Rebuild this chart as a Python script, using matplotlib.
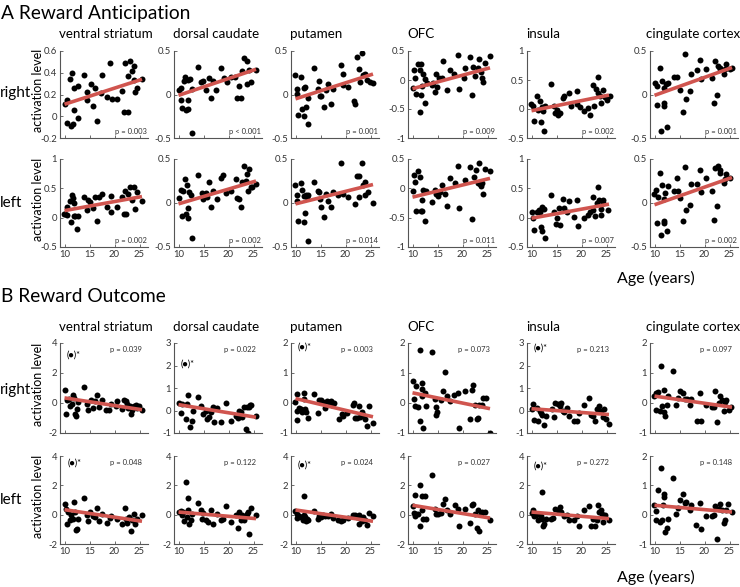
import matplotlib
matplotlib.use('Agg')
import matplotlib.pyplot as plt
import numpy as np

plt.rcParams['font.family'] = ['Lato', 'DejaVu Sans']

regions = ['ventral striatum', 'dorsal caudate', 'putamen', 'OFC', 'insula', 'cingulate cortex']
age_ticks = [10, 15, 20, 25]

# ---------------- A Reward Anticipation, right ----------------
ar_vs_age = [10.0, 10.5, 10.5, 11.1, 11.5, 11.3, 11.7, 11.8, 11.9, 12.6, 12.7, 13.9, 14.5, 14.5, 15.2, 15.7, 16.1, 16.5,
             17.3, 17.5, 18.5, 19.0, 19.4, 20.5, 21.5, 21.8, 22.6, 22.1, 22.7, 23.1, 23.5, 23.9, 23.9, 24.1, 24.5, 25.5]
ar_vs_val = [0.11, 0.15, -0.06, 0.34, 0.40, -0.09, -0.07, 0.26, 0.06, 0.28, -0.02, 0.38, 0.22, 0.15, 0.30, 0.09, 0.26, -0.04,
             0.21, 0.38, 0.18, 0.49, 0.16, 0.16, 0.23, 0.04, 0.04, 0.49, 0.37, 0.51, 0.42, 0.46, 0.33, 0.22, 0.26, 0.34]
ar_dc_age = [10.1, 10.4, 10.4, 10.6, 11.0, 11.3, 11.5, 11.9, 11.8, 11.8, 12.3, 12.7, 12.7, 13.9, 14.5, 14.8, 15.5, 16.1,
             16.5, 16.8, 17.5, 18.5, 19.1, 19.6, 20.4, 21.3, 21.7, 22.1, 22.4, 22.7, 23.1, 23.6, 23.7, 24.1, 24.4, 25.4]
ar_dc_val = [0.05, 0.08, -0.065, -0.16, 0.16, 0.20, -0.18, -0.065, -0.17, 0.17, 0.18, 0.06, -0.44, 0.32, 0.14, 0.16, 0.05, 0.19,
             -0.035, 0.16, 0.05, 0.30, 0.19, 0.14, 0.20, 0.20, -0.045, 0.095, -0.035, 0.27, 0.42, 0.39, 0.125, 0.285, 0.145, 0.285]
ar_put_age = [9.9, 10.2, 10.3, 10.4, 11.0, 11.2, 11.6, 11.7, 11.9, 12.1, 12.5, 12.5, 13.7, 14.4, 14.6, 14.8, 15.1, 15.6, 16.1,
              16.5, 17.0, 17.5, 19.0, 19.4, 19.5, 20.5, 21.6, 21.9, 22.2, 22.7, 23.3, 22.8, 23.5, 23.9, 24.3, 24.8, 25.4]
ar_put_val = [0.22, 0.065, 0.01, -0.23, 0.20, -0.17, 0.08, -0.25, 0.09, -0.14, -0.04, -0.34, 0.31, 0.065, 0.15, -0.015, -0.015,
              -0.14, 0.05, 0.12, -0.11, 0.065, 0.34, 0.23, 0.11, 0.09, -0.07, -0.11, 0.43, 0.29, 0.48, 0.14, 0.22, 0.24, 0.17, 0.14, 0.13]
ar_ofc_age = [10.0, 10.3, 10.5, 10.6, 11.1, 11.4, 11.6, 11.7, 11.5, 11.9, 12.1, 12.4, 12.5, 12.8, 13.8, 14.1, 14.5, 14.6, 14.9,
              15.3, 15.9, 16.1, 16.9, 17.5, 18.3, 19.1, 19.3, 20.3, 20.5, 21.4, 21.8, 22.1, 22.5, 23.1, 23.3, 23.6, 23.8, 24.1, 24.5, 25.4]
ar_ofc_val = [-0.13, 0.17, 0.04, -0.24, 0.27, 0.18, 0.27, -0.26, -0.56, -0.10, 0.11, 0.01, -0.39, -0.05, -0.08, -0.06, -0.21, 0.11,
              -0.12, 0.04, 0.04, 0.33, -0.17, 0.18, 0.10, 0.43, -0.16, 0.04, 0.20, 0.39, -0.26, 0.22, 0.07, 0.21, 0.36, 0.13, 0.04, -0.03, 0.30, 0.41]
ar_ins_age = [9.9, 10.2, 10.5, 11.0, 11.3, 11.7, 11.9, 12.1, 12.3, 12.5, 12.7, 13.9, 14.5, 14.7, 15.0, 15.3, 15.7, 16.2, 16.5,
              17.5, 17.9, 19.0, 19.1, 19.7, 20.5, 21.3, 21.7, 22.2, 22.5, 22.9, 23.2, 23.3, 23.7, 23.9, 24.2, 24.7, 25.1, 25.7]
ar_ins_val = [0.09, 0.05, -0.21, 0.22, -0.01, 0.13, -0.23, 0.03, -0.04, -0.38, 0.05, 0.43, 0.06, -0.07, -0.01, -0.10, -0.07, 0.19,
              0.22, 0.27, 0.06, 0.31, 0.08, 0.03, -0.03, 0.01, -0.10, 0.42, 0.06, 0.35, 0.55, 0.28, 0.23, 0.10, 0.32, 0.21, 0.16, 0.22]
ar_cing_age = [10.0, 10.5, 10.5, 11.0, 11.3, 11.5, 11.8, 11.9, 11.8, 12.3, 12.5, 12.7, 13.8, 14.5, 15.0, 15.6, 16.0, 16.3, 17.0,
               17.3, 18.5, 19.0, 19.3, 20.3, 21.5, 21.8, 22.1, 22.5, 22.7, 23.0, 23.1, 23.8, 24.0, 24.3, 25.0, 25.5]
ar_cing_val = [0.13, 0.10, -0.12, 0.30, -0.42, 0.15, -0.10, -0.13, 0.08, 0.12, -0.37, 0.13, 0.20, 0.20, 0.05, -0.20, 0.47, -0.05,
               0.04, 0.24, 0.28, 0.40, 0.18, 0.29, 0.19, -0.10, 0.38, -0.01, 0.33, 0.29, 0.31, 0.23, 0.29, 0.35, 0.29, 0.31]

# ---------------- A Reward Anticipation, left ----------------
al_vs_age = [9.9, 10.1, 10.5, 10.5, 11.1, 11.5, 11.3, 11.7, 11.8, 11.9, 12.1, 12.5, 12.7, 13.9, 14.5, 14.7, 15.1, 15.7, 16.1,
             16.5, 16.8, 17.5, 18.5, 19.2, 19.3, 20.5, 21.5, 21.8, 22.3, 22.1, 22.7, 23.1, 23.5, 23.9, 24.1, 24.5, 25.5]
al_vs_val = [0.06, 0.07, 0.05, 0.18, 0.29, 0.39, -0.08, 0.34, 0.03, 0.25, 0.02, -0.19, 0.03, 0.36, 0.13, 0.30, 0.26, 0.16, 0.35,
             -0.05, 0.35, 0.40, 0.19, 0.37, 0.10, 0.18, 0.36, 0.07, 0.07, 0.46, 0.40, 0.52, 0.30, 0.53, 0.14, 0.43, 0.29]
al_dc_age = [10.1, 10.5, 10.6, 10.8, 11.3, 11.5, 11.7, 11.9, 11.8, 12.1, 12.4, 12.6, 13.9, 14.6, 14.9, 15.5, 15.7, 16.1, 16.5,
             16.8, 17.6, 18.4, 18.8, 19.4, 20.4, 21.4, 21.7, 22.0, 22.5, 22.7, 23.1, 23.5, 23.7, 24.1, 23.9, 24.4, 24.7, 25.4]
al_dc_val = [0.06, 0.15, -0.15, 0.14, 0.27, -0.13, 0.20, -0.06, -0.17, 0.13, 0.09, -0.40, 0.32, 0.11, 0.05, 0.11, 0.07, 0.24, -0.05,
             0.14, 0.05, 0.28, 0.32, 0.11, 0.14, 0.27, 0.06, 0.04, -0.05, 0.24, 0.42, 0.25, 0.33, 0.39, 0.14, 0.18, 0.18, 0.22]
al_put_age = [9.9, 10.2, 10.3, 10.4, 11.0, 11.2, 11.6, 11.7, 11.8, 12.0, 12.2, 12.5, 12.5, 13.7, 14.4, 14.6, 14.9, 15.1, 15.6,
              16.1, 16.5, 17.0, 17.5, 18.5, 19.0, 19.4, 20.5, 21.9, 22.2, 22.7, 22.6, 23.3, 23.4, 23.8, 23.9, 24.5, 25.4]
al_put_val = [0.21, 0.09, 0.02, -0.21, 0.23, 0.15, 0.08, -0.22, -0.11, 0.09, 0.07, 0.09, -0.43, 0.24, 0.14, 0.13, 0.05, -0.05,
              -0.16, 0.10, 0.02, -0.05, 0.13, 0.09, 0.46, 0.10, 0.07, -0.01, 0.31, 0.31, 0.07, 0.46, 0.21, 0.24, 0.09, 0.13, 0.00]
al_ofc_age = [10.0, 10.3, 10.4, 10.6, 11.1, 11.5, 11.6, 11.8, 11.9, 12.1, 12.5, 12.6, 13.8, 14.5, 14.7, 15.1, 15.5, 15.9, 16.4,
              16.9, 17.5, 18.4, 19.1, 19.3, 20.4, 21.4, 21.8, 22.3, 22.6, 23.1, 23.3, 23.4, 23.6, 23.9, 24.1, 24.5, 25.4]
al_ofc_val = [-0.04, 0.23, 0.10, -0.38, 0.30, 0.19, -0.38, -0.20, -0.38, -0.02, -0.55, -0.04, -0.23, -0.02, -0.10, -0.13, -0.07,
              0.06, -0.10, -0.30, 0.18, 0.09, 0.38, -0.33, 0.15, 0.36, -0.53, 0.20, 0.31, 0.09, 0.44, 0.07, 0.04, 0.09, -0.10, 0.33, 0.29]
al_ins_age = [10.0, 10.3, 10.5, 11.0, 11.5, 11.7, 11.9, 12.0, 12.1, 12.5, 12.7, 13.9, 14.5, 14.8, 15.1, 15.5, 15.7, 16.2, 16.5,
              17.1, 17.5, 18.5, 19.1, 19.3, 20.5, 21.3, 21.7, 22.2, 22.3, 22.7, 23.0, 23.2, 23.5, 23.9, 23.9, 24.2, 24.3, 25.3]
al_ins_val = [0.09, -0.01, -0.21, 0.10, 0.13, 0.09, -0.16, -0.22, 0.18, 0.14, -0.34, 0.39, 0.10, -0.11, -0.01, 0.17, -0.13, 0.32,
              0.16, 0.09, 0.28, 0.01, 0.30, -0.14, -0.01, 0.05, 0.10, 0.35, 0.13, 0.03, 0.25, 0.52, 0.30, 0.05, 0.14, 0.30, 0.25, 0.13]
al_cing_age = [9.9, 10.3, 10.5, 10.6, 11.0, 11.3, 11.5, 11.8, 11.8, 11.9, 12.1, 12.5, 12.6, 13.8, 14.5, 14.6, 15.1, 15.7, 16.0,
               16.3, 17.0, 17.3, 18.5, 19.0, 19.3, 20.3, 21.5, 21.8, 22.0, 22.5, 22.7, 23.0, 23.1, 23.8, 24.0, 24.3, 25.0]
al_cing_val = [0.10, 0.15, -0.23, 0.07, 0.34, -0.36, 0.21, 0.05, -0.21, -0.23, 0.11, -0.32, 0.19, 0.14, 0.28, 0.14, 0.06, -0.20,
               0.41, -0.08, -0.02, 0.22, 0.22, 0.37, 0.13, 0.28, 0.14, -0.19, 0.40, -0.03, 0.42, 0.37, 0.34, 0.23, 0.27, 0.33, 0.28]

# ---------------- B Reward Outcome, right ----------------
or_vs_age = [10.0, 10.5, 10.3, 10.9, 11.1, 11.5, 11.7, 11.9, 12.1, 12.3, 12.5, 12.7, 13.8, 14.5, 14.7, 15.2, 15.7, 16.1, 16.5, 16.9,
             17.5, 18.3, 18.9, 19.3, 20.2, 20.5, 21.5, 21.9, 22.2, 22.5, 22.6, 23.0, 23.2, 23.5, 23.9, 24.2, 24.5, 24.9, 25.5]
or_vs_val = [0.85, 0.22, -0.72, 0.27, -0.18, -0.07, 0.56, 0.34, -0.72, -0.89, -0.38, 0.04, 1.07, -0.04, -0.45, 0.22, -0.34, 0.16,
             0.51, -0.29, 0.22, -0.49, -0.45, -0.04, -0.18, 0.11, -0.38, 0.22, 0.11, -0.04, -0.34, -0.22, -0.72, -0.45, -0.22, -0.11,
             -0.34, -0.22, -0.45]
or_dc_age = [10.1, 10.5, 10.7, 11.4, 11.7, 11.9, 12.3, 12.6, 12.8, 13.9, 14.5, 14.8, 15.5, 15.7, 16.1, 16.5, 16.8, 17.1, 17.6, 18.4,
             19.4, 20.4, 21.5, 21.8, 22.1, 22.4, 22.7, 23.1, 23.4, 23.6, 23.9, 24.1, 24.3, 24.5, 25.4]
or_dc_val = [0.33, -0.12, 0.27, -0.38, 0.27, 0.68, -0.73, -0.45, 0.0, 0.61, 0.18, -0.15, 0.0, -0.38, -0.27, -0.05, 0.15, -0.53, 0.12,
             -0.53, 0.33, -0.45, -0.23, -0.33, 0.0, -0.08, -0.30, 0.15, -0.83, 0.15, -0.98, 0.15, 0.23, 0.26, -0.23]
or_put_age = [9.9, 10.2, 10.3, 10.3, 10.7, 11.0, 11.2, 11.6, 11.7, 11.8, 12.0, 12.5, 13.7, 14.4, 14.6, 15.0, 15.4, 15.9, 16.3, 16.6,
              17.0, 17.3, 17.6, 18.6, 19.2, 19.4, 20.3, 21.4, 21.7, 21.9, 22.2, 22.6, 22.9, 23.3, 23.5, 23.8, 24.3, 24.6, 25.4]
or_put_val = [0.03, -0.26, 0.31, -0.57, -0.15, -0.20, -0.29, 0.34, 0.15, -0.20, -0.31, -0.49, 0.31, -0.34, 0.11, 0.11, 0.02, -0.15,
              0.06, 0.03, 0.06, -0.06, 0.0, -0.54, -0.38, -0.44, -0.34, -0.08, 0.0, -0.49, -0.49, -0.11, -0.46, -0.31, -0.40, -0.54,
              -0.77, -0.11, -0.66]
or_ofc_age = [10.0, 10.3, 10.4, 10.6, 11.1, 11.4, 11.5, 11.8, 11.8, 11.9, 12.1, 12.5, 12.6, 13.8, 14.5, 14.6, 14.7, 14.9, 15.6,
              16.1, 16.4, 16.9, 17.4, 18.3, 19.1, 19.3, 20.4, 21.4, 21.8, 22.1, 22.5, 22.8, 23.1, 23.3, 23.9, 24.1, 24.6, 25.4]
or_ofc_val = [0.74, 0.15, -0.11, 0.57, -0.14, 1.76, -0.59, 0.68, 0.47, 0.23, -0.82, 0.32, -0.11, 1.70, 0.15, -0.14, -0.39, -0.31,
              0.11, 0.40, 1.02, 0.23, 0.07, 0.26, 0.34, -0.82, 0.41, -0.53, 0.43, 0.60, -0.05, -0.53, -0.50, -0.08, -0.05, 0.18, 0.18, -0.99]
or_ins_age = [10.0, 10.3, 10.5, 11.0, 11.2, 11.7, 11.9, 12.1, 12.5, 12.8, 14.0, 14.5, 14.7, 15.3, 15.7, 15.9, 16.2, 16.5, 17.1,
              17.5, 18.5, 19.0, 19.5, 20.5, 21.5, 21.8, 22.2, 22.7, 23.1, 23.5, 23.8, 24.2, 24.5, 24.9, 25.5]
or_ins_val = [0.05, 0.27, -0.41, 0.12, -0.48, 0.0, -0.11, -0.18, -0.64, -0.26, 0.05, -0.30, 0.35, 0.30, 0.20, 0.35, 0.0, -0.06,
              0.09, -0.26, -0.48, -0.45, -0.11, 0.24, 0.55, -0.21, -0.26, -0.48, 0.05, 0.20, -0.03, -0.30, 0.05, -0.36, -0.61]
or_cing_age = [9.9, 10.3, 10.3, 10.6, 11.0, 11.3, 11.5, 11.8, 11.9, 12.1, 12.5, 12.7, 13.7, 14.3, 14.6, 15.1, 15.7, 16.0, 16.5,
               17.0, 17.3, 18.5, 19.0, 19.3, 20.3, 21.5, 21.8, 22.1, 22.5, 22.8, 23.1, 23.5, 23.8, 24.0, 24.3, 24.8, 25.3]
or_cing_val = [0.23, 0.34, -0.23, 0.38, -0.25, 1.23, -0.11, 0.45, -0.31, -0.42, -0.08, 0.23, 1.06, -0.05, 0.18, 0.41, 0.32, 0.15,
               0.15, -0.06, 0.15, -0.61, 0.34, -0.61, -0.08, -0.14, -0.14, 0.40, -0.63, 0.0, 0.23, 0.11, -0.25, 0.03, 0.09, -0.23, -0.14]

# ---------------- B Reward Outcome, left ----------------
ol_vs_age = [10.0, 10.3, 10.5, 10.7, 11.0, 11.3, 11.7, 11.9, 12.0, 12.2, 12.5, 12.7, 13.8, 14.5, 14.7, 15.1, 15.7, 16.1, 16.5,
             16.9, 17.5, 18.5, 19.0, 19.3, 20.5, 21.5, 22.0, 22.2, 22.5, 22.8, 23.2, 23.5, 23.8, 24.1, 24.5, 25.5]
ol_vs_val = [0.75, 0.41, -0.66, 0.18, -0.39, -0.05, -0.27, 0.86, 0.18, -1.07, -0.95, -0.27, 1.16, -0.05, -0.43, 0.18, -0.11, -0.16,
             0.48, -0.43, 0.02, -0.57, -0.20, -0.11, -0.27, -0.66, 0.48, -0.27, -0.57, -0.16, -1.11, -0.39, 0.02, -0.66, -0.27, 0.0]
ol_dc_age = [10.1, 10.5, 10.6, 10.9, 11.1, 11.5, 11.6, 11.9, 11.9, 12.1, 12.4, 12.6, 13.9, 14.5, 14.7, 14.9, 15.5, 15.9, 16.4,
             16.9, 17.6, 18.4, 18.9, 19.4, 20.4, 21.5, 21.8, 22.1, 22.4, 22.7, 23.1, 23.4, 23.7, 23.9, 24.1, 24.5, 25.4]
ol_dc_val = [0.18, 0.25, -0.05, 0.18, -0.43, 2.23, -0.16, 0.34, 1.16, -0.61, -0.34, 0.02, 0.80, 0.34, -0.27, 0.11, -0.39, -0.50,
             0.30, -0.61, 0.07, -0.34, -0.27, 0.57, -0.50, -0.05, -0.89, 0.18, -0.34, -0.05, -0.39, -0.11, 0.07, 0.18, -1.30, 0.48, -0.05]
ol_put_age = [9.9, 10.2, 10.3, 10.7, 11.0, 11.4, 11.6, 11.7, 11.8, 12.0, 12.2, 12.5, 13.7, 14.4, 14.6, 15.0, 15.4, 15.9, 16.5,
              17.0, 17.5, 18.5, 19.0, 19.4, 20.5, 21.4, 21.9, 22.2, 22.6, 22.7, 22.9, 23.3, 23.5, 23.9, 24.3, 24.6, 25.4]
ol_put_val = [0.27, 0.05, -0.23, -0.07, -0.18, -0.34, 0.0, 1.25, -0.18, -0.45, -0.27, -0.34, 0.23, -0.27, -0.11, -0.18, -0.05,
              -0.11, -0.11, 0.05, -0.23, -0.34, -0.41, -0.34, -0.23, -0.05, 0.0, -0.18, 0.0, -0.64, -0.23, -0.41, -0.18, -0.34,
              -0.73, 0.11, -0.11]
ol_ofc_age = [10.0, 10.3, 10.4, 10.5, 10.7, 11.1, 11.4, 11.5, 11.8, 11.9, 12.1, 12.5, 12.6, 13.8, 14.5, 14.7, 15.1, 15.6, 16.1,
              16.4, 16.9, 17.5, 18.4, 19.1, 19.3, 20.4, 21.4, 21.8, 22.1, 22.5, 22.8, 23.3, 23.1, 23.6, 23.9, 24.5, 25.4]
ol_ofc_val = [0.57, 0.11, -0.11, 1.32, 0.02, 0.02, 2.05, -0.80, 0.30, 1.25, -0.27, 1.25, -0.27, 2.68, 0.41, 0.07, 0.02, 0.11, 0.75,
              1.09, 0.34, 0.02, 0.64, 0.41, -0.75, 0.41, -0.57, 0.64, 0.70, 0.02, -0.89, -1.14, 0.34, 0.02, 0.18, 0.18, -0.34]
ol_ins_age = [10.0, 10.3, 10.5, 10.9, 11.2, 11.5, 11.8, 12.0, 12.1, 12.3, 12.5, 12.8, 13.9, 14.3, 14.7, 15.3, 15.7, 15.9, 16.5,
              17.0, 17.5, 18.5, 19.0, 19.5, 20.5, 21.5, 21.8, 22.3, 22.7, 23.0, 23.2, 23.5, 23.8, 24.0, 24.2, 24.7, 25.5]
ol_ins_val = [0.11, 0.30, -0.11, -0.05, -0.34, 0.07, -0.09, 1.55, -0.27, -0.80, -0.61, -0.27, -0.27, -0.20, 0.41, 0.30, 0.52, 0.18,
              -0.11, -0.05, -0.34, -0.39, -0.11, -0.80, 0.34, 0.57, -0.80, -0.27, -0.80, -0.34, 0.64, 0.18, 0.34, 0.02, -0.50, -0.05, -0.34]
ol_cing_age = [9.9, 10.3, 10.3, 10.6, 11.0, 11.3, 11.5, 11.7, 11.8, 11.9, 12.1, 12.5, 12.6, 13.7, 14.3, 14.6, 15.1, 15.6, 16.0,
               16.3, 17.0, 17.3, 18.3, 19.0, 19.3, 20.3, 21.5, 21.8, 22.1, 22.5, 22.8, 23.1, 23.5, 23.8, 24.0, 24.3, 24.7, 25.5]
ol_cing_val = [0.32, 0.13, -0.17, 0.85, -0.25, 1.60, -0.17, 0.32, 0.72, 0.60, -0.59, -0.44, -0.14, 1.26, 0.03, 0.24, 0.49, 0.69,
               0.40, 0.43, 0.15, 0.32, -0.36, 0.40, -0.48, -0.06, -0.06, -0.02, 0.28, -0.84, 0.20, 0.35, 0.17, -0.28, -0.17, 0.17, 0.38, 0.09]

# regression line values at age 10 and age 25.5 (one per region)
fit_ar_start = [0.11, -0.01, -0.05, -0.15, -0.03, -0.01]
fit_ar_end = [0.34, 0.29, 0.235, 0.21, 0.24, 0.31]
fit_al_start = [0.12, -0.01, -0.01, -0.15, -0.01, -0.02]
fit_al_end = [0.36, 0.25, 0.21, 0.17, 0.23, 0.29]
fit_or_start = [0.34, 0.26, 0.15, 0.34, 0.08, 0.23]
fit_or_end = [-0.45, -0.30, -0.46, -0.19, -0.18, -0.14]
fit_ol_start = [0.34, 0.18, 0.32, 0.64, 0.18, 0.32]
fit_ol_end = [-0.45, -0.27, -0.45, -0.23, -0.27, 0.09]
fit_ages = [10, 25.5]

p_ar = ['p = 0.003', 'p < 0.001', 'p = 0.001', 'p = 0.009', 'p = 0.002', 'p = 0.001']
p_al = ['p = 0.002', 'p = 0.002', 'p = 0.014', 'p = 0.011', 'p = 0.007', 'p = 0.002']
p_or = ['p = 0.039', 'p = 0.022', 'p = 0.003', 'p = 0.073', 'p = 0.213', 'p = 0.097']
p_ol = ['p = 0.048', 'p = 0.122', 'p = 0.024', 'p = 0.027', 'p = 0.272', 'p = 0.148']

yticks_ar = [[-0.2, 0, 0.2, 0.4, 0.6], [-0.5, 0, 0.5], [-0.5, 0, 0.5], [-1, -0.5, 0, 0.5], [-0.5, 0, 0.5, 1], [-0.5, 0, 0.5]]
yticks_al = [[-0.5, 0, 0.5, 1], [-0.5, 0, 0.5], [-0.5, 0, 0.5], [-1, -0.5, 0, 0.5], [-0.5, 0, 0.5, 1], [-0.5, 0, 0.5]]
yticks_or = [[-2, 0, 2, 4], [-1, 0, 1, 2, 3], [-1, 0, 1, 2], [-1, 0, 1, 2], [-1, 0, 1, 2, 3], [-1, 0, 1, 2]]
yticks_ol = [[-2, 0, 2, 4], [-2, 0, 2, 4], [-2, 0, 2, 4], [-2, 0, 2, 4], [-2, 0, 2, 4], [-1, 0, 1, 2]]

# excluded outlier markers "(●)*": (row, column, age, value)
outlier_rows = [2, 2, 2, 2, 3, 3, 3]
outlier_cols = [0, 1, 2, 4, 0, 2, 4]
outlier_age = [11.8, 11.9, 11.8, 11.8, 12.1, 11.8, 11.8]
outlier_val = [3.2, 2.05, 1.87, 2.77, 3.52, 3.36, 3.3]

rows_data = [
    ([ar_vs_age, ar_dc_age, ar_put_age, ar_ofc_age, ar_ins_age, ar_cing_age],
     [ar_vs_val, ar_dc_val, ar_put_val, ar_ofc_val, ar_ins_val, ar_cing_val], fit_ar_start, fit_ar_end, p_ar, yticks_ar),
    ([al_vs_age, al_dc_age, al_put_age, al_ofc_age, al_ins_age, al_cing_age],
     [al_vs_val, al_dc_val, al_put_val, al_ofc_val, al_ins_val, al_cing_val], fit_al_start, fit_al_end, p_al, yticks_al),
    ([or_vs_age, or_dc_age, or_put_age, or_ofc_age, or_ins_age, or_cing_age],
     [or_vs_val, or_dc_val, or_put_val, or_ofc_val, or_ins_val, or_cing_val], fit_or_start, fit_or_end, p_or, yticks_or),
    ([ol_vs_age, ol_dc_age, ol_put_age, ol_ofc_age, ol_ins_age, ol_cing_age],
     [ol_vs_val, ol_dc_val, ol_put_val, ol_ofc_val, ol_ins_val, ol_cing_val], fit_ol_start, fit_ol_end, p_ol, yticks_ol),
]

# ---------------- layout ----------------
W, H = 740, 587
fig = plt.figure(figsize=(W / 100, H / 100), dpi=100)
col_left = [60, 174, 291, 408, 527, 650]
title_left = [59, 173, 290, 407, 526, 646]
ax_w = 88
rows_px = [(51, 138), (159, 247), (343, 433), (456, 544)]
line_col = '#d0554f'
tick_col = '#333333'


def fmt(v):
    return '%g' % v


axes = {}
for r, (ages, vals, fs, fe, ps, yts) in enumerate(rows_data):
    top, bot = rows_px[r]
    for c in range(6):
        l = col_left[c]
        ax = fig.add_axes([l / W, 1 - bot / H, ax_w / W, (bot - top) / H])
        axes[(r, c)] = ax
        ax.plot(ages[c], vals[c], 'o', color='black', markersize=4.3, markeredgewidth=0, zorder=2)
        ax.plot(fit_ages, [fs[c], fe[c]], '-', color=line_col, lw=2.6, solid_capstyle='butt', zorder=3)
        yt = yts[c]
        ax.set_ylim(yt[0], yt[-1])
        ax.set_yticks(yt)
        ax.set_yticklabels([fmt(v) for v in yt])
        ax.set_xlim(9.1, 26.7)
        ax.set_xticks(age_ticks)
        if r in (1, 3):
            ax.set_xticklabels([str(t) for t in age_ticks])
        else:
            ax.set_xticklabels([])
        for s in ('top', 'right'):
            ax.spines[s].set_visible(False)
        for s in ('left', 'bottom'):
            ax.spines[s].set_color('#555555')
            ax.spines[s].set_linewidth(0.8)
        ax.tick_params(direction='in', length=2, width=0.6, colors='#555555', labelsize=6.8,
                       labelcolor=tick_col, pad=2)
        if r < 2:
            ax.text(0.99, 0.07, ps[c], transform=ax.transAxes, ha='right', va='center', fontsize=5.5, color=tick_col)
        else:
            ax.text(0.93, 0.93, ps[c], transform=ax.transAxes, ha='right', va='center', fontsize=5.5, color=tick_col)

for r, c, a, v in zip(outlier_rows, outlier_cols, outlier_age, outlier_val):
    axes[(r, c)].text(a, v, '(\u25cf)*', ha='center', va='center', fontsize=6.5, color='black',
                      family=['Lato', 'DejaVu Sans'])

# titles
fig.text(1 / W, 1 - 13 / H, 'A Reward Anticipation', ha='left', va='center', fontsize=13.8)
fig.text(1 / W, 1 - 297 / H, 'B Reward Outcome', ha='left', va='center', fontsize=13.8)
for c, name in enumerate(regions):
    fig.text(title_left[c] / W, 1 - 34 / H, name, ha='left', va='center', fontsize=9.6)
    fig.text(title_left[c] / W, 1 - 327 / H, name, ha='left', va='center', fontsize=9.6)

for ypx, lab in [(93, 'right'), (203, 'left'), (390, 'right'), (500, 'left')]:
    fig.text(0 / W, 1 - ypx / H, lab, ha='left', va='center', fontsize=11)

for r in range(4):
    top, bot = rows_px[r]
    fig.text(38 / W, 1 - (top + bot - 8) / 2 / H, 'activation level', rotation=90, ha='center', va='center', fontsize=9)

fig.text(656 / W, 1 - 278 / H, 'Age (years)', ha='center', va='center', fontsize=11.5)
fig.text(656 / W, 1 - 577 / H, 'Age (years)', ha='center', va='center', fontsize=11.5)

fig.savefig('out.png', dpi=100)
